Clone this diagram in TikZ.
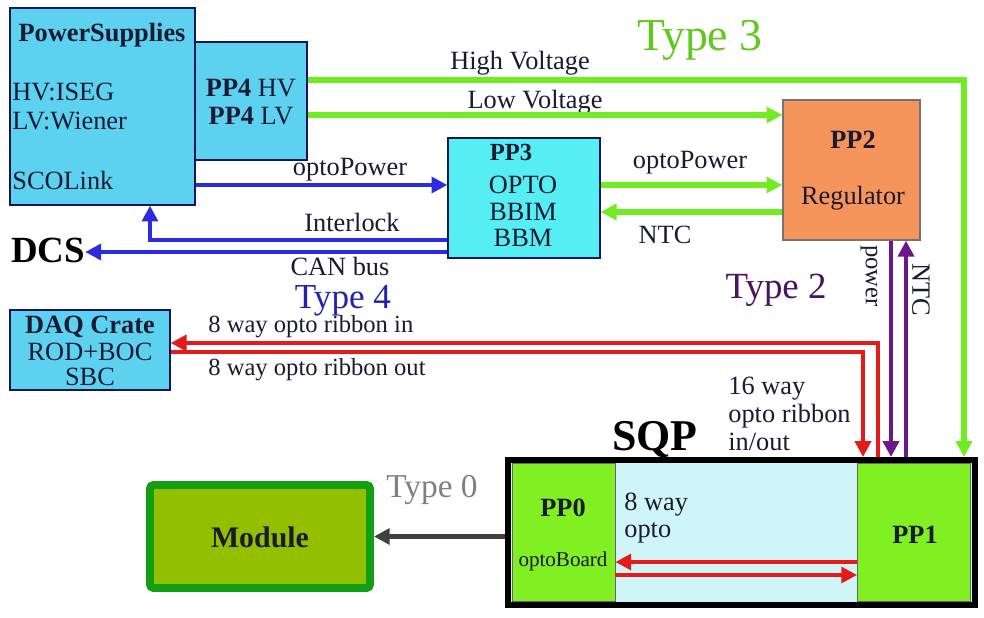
\documentclass[tikz,border=0pt]{standalone}
\usepackage{fontspec}
\setmainfont{Liberation Serif}
\usepackage{tikz}
\usetikzlibrary{arrows.meta}
\definecolor{psblue}{HTML}{5CD2F0}
\definecolor{ppcyan}{HTML}{55EEF2}
\definecolor{pporange}{HTML}{F5955C}
\definecolor{sqpfill}{HTML}{CFF5F8}
\definecolor{ppgreen}{HTML}{80F022}
\definecolor{modfill}{HTML}{92C000}
\definecolor{modline}{HTML}{12A012}
\definecolor{lgreen}{HTML}{72EC22}
\definecolor{lblue}{HTML}{2B2BE0}
\definecolor{lred}{HTML}{E51A1A}
\definecolor{lpurple}{HTML}{6A1A88}
\definecolor{txtdark}{HTML}{1A1A33}
\tikzset{
    txt/.style={font=\fontsize{15}{16}\selectfont, text=txtdark, inner sep=0pt},
    boxpart/.style={draw=txtdark!80!blue, line width=0.8pt, inner sep=0pt},
    tip/.style={-{Triangle[length=9pt,width=9pt]}},
    type3/.style={lgreen, line width=3.4pt, tip},
    type4/.style={lblue, line width=2.8pt, tip},
    redline/.style={lred, line width=2.8pt, tip},
    type2/.style={lpurple, line width=2.8pt, tip},
    type0/.style={black!75, line width=2.8pt, tip},
}

\begin{document}
\begin{tikzpicture}[x=0.02cm, y=-0.02cm]
\useasboundingbox[fill=white] (0,0) rectangle (984,618);
\node[boxpart, fill=psblue, minimum width=3.7cm, minimum height=3.94cm] (ps) at (102.5,106.5) {};
\node[boxpart, fill=psblue, minimum width=2.24cm, minimum height=2.36cm] (pp4) at (251,101) {};
\node[boxpart, fill=ppcyan, minimum width=3.04cm, minimum height=2.4cm] (pp3) at (524,198) {};
\node[boxpart, draw=black!55, fill=pporange, minimum width=2.74cm, minimum height=2.8cm] (pp2) at (851.5,170) {};
\node[boxpart, fill=psblue, minimum width=3.2cm, minimum height=1.6cm] (daq) at (90,350) {};
\node[draw=black, line width=3.4pt, fill=sqpfill, minimum width=9.34cm, minimum height=2.9cm] (sqp) at (741.5,532.5) {};
\node[fill=ppgreen, draw=black!60, line width=0.5pt, minimum width=2.06cm, minimum height=2.76cm] (pp0) at (563.5,532.5) {};
\node[fill=ppgreen, draw=black!60, line width=0.5pt, minimum width=2.26cm, minimum height=2.76cm] (pp1) at (914,532.5) {};
\node[draw=modline, line width=4.5pt, fill=modfill, rounded corners=2pt, minimum width=4.4cm, minimum height=2.06cm] (module) at (260,536.5) {};

\node[txt, font=\fontsize{15}{16}\selectfont\bfseries] at (102,35) {PowerSupplies};
\node[txt, anchor=west] at (12,92) {HV:ISEG};
\node[txt, anchor=west] at (12,121) {LV:Wiener};
\node[txt, anchor=west] at (12,180) {SCOLink};
\node[txt] at (251,88) {\textbf{PP4} HV};
\node[txt] at (251,116) {\textbf{PP4} LV};
\node[txt, font=\fontsize{14}{16}\selectfont\bfseries] at (511,152) {PP3};
\node[txt] at (523,185) {OPTO};
\node[txt] at (523,212) {BBIM};
\node[txt] at (523,238) {BBM};
\node[txt, font=\fontsize{15}{16}\selectfont\bfseries] at (853,140) {PP2};
\node[txt] at (853,198) {Regulator};
\node[txt, font=\fontsize{15}{16}\selectfont\bfseries] at (90,327) {DAQ Crate};
\node[txt] at (90,352) {ROD+BOC};
\node[txt] at (90,377) {SBC};
\node[txt, font=\fontsize{15}{16}\selectfont\bfseries] at (563,508) {PP0};
\node[txt, font=\fontsize{12}{14}\selectfont] at (563,561) {optoBoard};
\node[txt, font=\fontsize{15}{16}\selectfont\bfseries] at (915,535) {PP1};
\node[txt, anchor=west] at (624,505) {8 way};
\node[txt, anchor=west] at (624,533) {opto};
\node[txt, font=\fontsize{17}{18}\selectfont\bfseries] at (260,537) {Module};
\node[txt, font=\fontsize{21}{22}\selectfont\bfseries, text=black] (dcs) at (48,250) {DCS};
\node[txt, font=\fontsize{25}{26}\selectfont\bfseries, text=black] at (655,440) {SQP};

\node[txt, font=\fontsize{26}{28}\selectfont, text=lgreen!85!black] at (700,40) {Type 3};
\node[txt, font=\fontsize{20}{22}\selectfont, text=lblue!80!black] at (343,301) {Type 4};
\node[txt, font=\fontsize{21}{22}\selectfont, text=lpurple!70!black] at (776,290) {Type 2};
\node[txt, font=\fontsize{19}{20}\selectfont, text=black!50] at (432,490) {Type 0};

\node[txt] at (520,63) {High Voltage};
\node[txt] at (535,102) {Low Voltage};
\node[txt] at (350,170) {optoPower};
\node[txt] at (352,222) {Interlock};
\node[txt] at (340,266) {CAN bus};
\node[txt] at (690,163) {optoPower};
\node[txt] at (665,235) {NTC};
\node[txt, rotate=-90, font=\fontsize{14}{16}\selectfont] at (869,276) {power};
\node[txt, rotate=-90] at (921,290) {NTC};
\node[txt, font=\fontsize{14}{16}\selectfont, anchor=west] at (208,327) {8 way opto ribbon in};
\node[txt, font=\fontsize{14}{16}\selectfont, anchor=west] at (208,370) {8 way opto ribbon out};
\node[txt, anchor=west, align=left, font=\fontsize{15}{16}\selectfont] at (728,414) {16 way\\opto ribbon\\in/out};

\coordinate (hv) at (964,80);
\coordinate (lv) at (700,115);
\coordinate (op) at (0,185);
\coordinate (ntc) at (0,212);
\coordinate (il) at (150,240);
\coordinate (can) at (0,252);
\coordinate (pw) at (891,0);
\coordinate (nt) at (906,0);
\coordinate (rin) at (878,343);
\coordinate (rout) at (863,352);
\coordinate (o1) at (0,562);
\coordinate (o2) at (0,575);

\draw[type3] (pp4.east |- hv) -- (hv) -- (hv |- sqp.north);
\draw[type3] (pp4.east |- lv) -- (pp2.west |- lv);
\draw[type3] (pp3.east |- op) -- (pp2.west |- op);
\draw[type3] (pp2.west |- ntc) -- (pp3.east |- ntc);
\draw[type4] (ps.east |- op) -- (pp3.west |- op);
\draw[type4] (pp3.west |- il) -- (il) -- (il |- ps.south);
\draw[type4] (pp3.west |- can) -- (dcs.east |- can);
\draw[type2] (pp2.south -| pw) -- (sqp.north -| pw);
\draw[type2] (sqp.north -| nt) -- (pp2.south -| nt);
\draw[redline] (sqp.north -| rin) -- (rin) -- (daq.east |- rin);
\draw[redline] (daq.east |- rout) -- (rout) -- (rout |- sqp.north);
\draw[redline] (pp1.west |- o1) -- (pp0.east |- o1);
\draw[redline] (pp0.east |- o2) -- (pp1.west |- o2);
\draw[type0] (sqp.west |- module.east) -- (module.east);
\end{tikzpicture}
\end{document}
